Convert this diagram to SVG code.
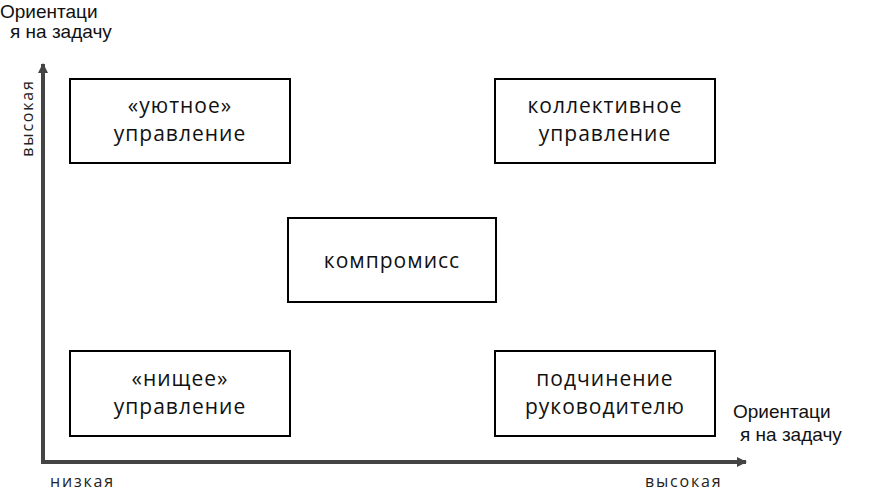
<svg xmlns="http://www.w3.org/2000/svg" width="875" height="494" viewBox="0 0 875 494">
<style>
.b{fill:#fff;stroke:#000;stroke-width:2}
.t{font-family:"Open Sans","DejaVu Sans",sans-serif;font-size:21px;letter-spacing:1px;fill:#111;text-anchor:middle}
.a{font-family:"Liberation Sans",Arial,sans-serif;font-size:19px;fill:#111}
.s{font-family:"Open Sans","DejaVu Sans",sans-serif;font-size:16px;letter-spacing:1.8px;fill:#222}
</style>
<defs><marker id="ar" markerWidth="10" markerHeight="10" refX="9" refY="5" orient="auto" markerUnits="userSpaceOnUse"><path d="M0,0L10,5L0,10z" fill="#444"/></marker></defs>
<rect width="875" height="494" fill="#fff"/>
<g id="connectors" stroke="#444" stroke-width="4" fill="none">
<line x1="43" y1="462" x2="43" y2="64" marker-end="url(#ar)"/>
<line x1="41" y1="462" x2="746" y2="462" marker-end="url(#ar)"/>
</g>
<g id="n1"><rect class="b" x="70" y="79" width="220" height="84"/><text class="t" x="180" y="113">«уютное»</text><text class="t" x="180" y="141">управление</text></g>
<g id="n2"><rect class="b" x="495" y="79" width="220" height="84"/><text class="t" x="605" y="113">коллективное</text><text class="t" x="605" y="141">управление</text></g>
<g id="n3"><rect class="b" x="288" y="218" width="208" height="84"/><text class="t" x="392" y="268">компромисс</text></g>
<g id="n4"><rect class="b" x="70" y="351" width="220" height="85"/><text class="t" x="180" y="386">«нищее»</text><text class="t" x="180" y="414">управление</text></g>
<g id="n5"><rect class="b" x="495" y="351" width="220" height="85"/><text class="t" x="605" y="386">подчинение</text><text class="t" x="605" y="414">руководителю</text></g>
<g id="labels">
<text class="a" x="0" y="18">Ориентаци</text><text class="a" x="10" y="38">я на задачу</text>
<text class="a" x="733" y="418">Ориентаци</text><text class="a" x="740" y="441">я на задачу</text>
<text class="s" transform="translate(33,118) rotate(-90)" text-anchor="middle">высокая</text>
<text class="s" x="50" y="487">низкая</text>
<text class="s" x="645" y="487">высокая</text>
</g>
</svg>
